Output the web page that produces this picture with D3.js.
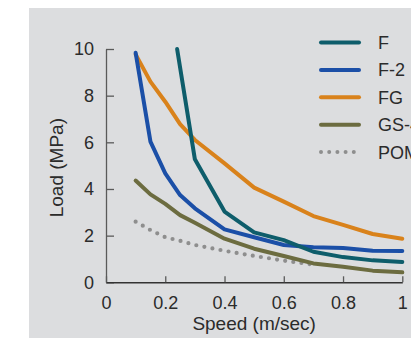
<!doctype html>
<html>
<head>
    <style>
        body { margin: 0; background: #fff; }
        svg { display: block; font-family: "Liberation Sans", Arial, sans-serif; }
        .tick text { fill: #2b2b2b; }
    </style>
    <script src="https://d3js.org/d3.v7.min.js"></script>
</head>
<body>
<svg width="411" height="338"></svg>
<script>

    // values
    var names = ["F", "F-2", "FG", "GS-4", "POM"];
    var colors = ["#0e5d6b", "#1b4fa7", "#d9821b", "#6c6c40", "#8e8e8e"];

    var speedF   = [0.24, 0.3, 0.4, 0.5, 0.6, 0.7, 0.8, 0.9, 1.0];
    var loadF    = [10, 5.27, 3.03, 2.14, 1.81, 1.31, 1.08, 0.94, 0.87];

    var speedF2  = [0.1, 0.15, 0.2, 0.25, 0.3, 0.4, 0.5, 0.6, 0.7, 0.8, 0.9, 1.0];
    var loadF2   = [9.84, 6.03, 4.67, 3.74, 3.17, 2.27, 1.93, 1.6, 1.5, 1.47, 1.35, 1.34];

    var speedFG  = [0.1, 0.15, 0.2, 0.25, 0.3, 0.4, 0.5, 0.6, 0.7, 0.8, 0.9, 1.0];
    var loadFG   = [9.77, 8.6, 7.74, 6.78, 6.1, 5.1, 4.06, 3.46, 2.84, 2.46, 2.07, 1.87];

    var speedGS  = [0.1, 0.15, 0.2, 0.25, 0.3, 0.4, 0.5, 0.6, 0.7, 0.8, 0.9, 1.0];
    var loadGS   = [4.36, 3.77, 3.36, 2.88, 2.55, 1.87, 1.44, 1.13, 0.81, 0.67, 0.5, 0.43];

    var speedPOM = [0.1, 0.15, 0.2, 0.25, 0.3, 0.4, 0.5, 0.6, 0.7];
    var loadPOM  = [2.6, 2.24, 1.93, 1.78, 1.6, 1.35, 1.13, 0.93, 0.76];

    var xTicks = [0, 0.2, 0.4, 0.6, 0.8, 1];
    var yTicks = [0, 2, 4, 6, 8, 10];

    var series = [
        {speed: speedPOM, load: loadPOM, i: 4},
        {speed: speedGS, load: loadGS, i: 3},
        {speed: speedFG, load: loadFG, i: 2},
        {speed: speedF2, load: loadF2, i: 1},
        {speed: speedF, load: loadF, i: 0}
    ];

    var svg = d3.select("svg");

    // grey panel
    svg.append("rect")
        .attr("x", 29).attr("y", 8)
        .attr("width", 382).attr("height", 330)
        .attr("fill", "#dcdddf");

    var x = d3.scaleLinear().domain([0, 1]).range([106, 402.3]),
        y = d3.scaleLinear().domain([0, 10]).range([282.3, 49]);

    // y axis, ticks pointing inward
    var gy = svg.append("g")
        .attr("transform", "translate(" + x(0) + ",0)")
        .call(d3.axisLeft(y).tickValues(yTicks).tickSizeInner(-8).tickSizeOuter(0).tickPadding(12));
    gy.select(".domain").attr("stroke", "#5a5a5a").attr("stroke-width", 1.3);
    gy.selectAll(".tick line").attr("stroke", "#5a5a5a").attr("stroke-width", 1.3);
    gy.selectAll(".tick text").attr("font-size", "18px");

    // x axis, ticks pointing up
    var gx = svg.append("g")
        .attr("transform", "translate(0," + y(0) + ")")
        .call(d3.axisBottom(x).tickValues(xTicks).tickFormat(d3.format("")).tickSizeInner(-6).tickSizeOuter(0).tickPadding(14));
    gx.select(".domain").attr("stroke", "#333").attr("stroke-width", 1.5);
    gx.selectAll(".tick line").attr("stroke", "#5a5a5a").attr("stroke-width", 1.3);
    gx.selectAll(".tick text").attr("font-size", "18px");

    svg.append("text")
        .attr("x", x(0.5)).attr("y", 330)
        .attr("text-anchor", "middle")
        .attr("font-size", "19px")
        .attr("fill", "#2b2b2b")
        .text("Speed (m/sec)");

    svg.append("text")
        .attr("transform", "translate(63," + (y(5) + 2) + ") rotate(-90)")
        .attr("text-anchor", "middle")
        .attr("font-size", "19px")
        .attr("fill", "#2b2b2b")
        .text("Load (MPa)");

    var line = d3.line()
        .x(function(d) { return x(d[0]); })
        .y(function(d) { return y(d[1]); });

    series.forEach(function(s) {
        var pts = s.speed.map(function(v, k) { return [v, s.load[k]]; });
        var p = svg.append("path")
            .datum(pts)
            .attr("d", line)
            .attr("fill", "none")
            .attr("stroke", colors[s.i])
            .attr("stroke-width", 4)
            .attr("stroke-linejoin", "round")
            .attr("stroke-linecap", "round");
        if (s.i === 4) {
            p.attr("stroke-width", 4.2).attr("stroke-dasharray", "0 8.2");
        }
    });

    // legend
    var leg = svg.selectAll(".leg")
        .data(names)
        .enter().append("g")
        .attr("class", "leg")
        .attr("transform", function(d, i) { return "translate(0," + (42.5 + i * 27.4) + ")"; });

    leg.append("line")
        .attr("x1", 321).attr("x2", 359)
        .attr("stroke", function(d, i) { return colors[i]; })
        .attr("stroke-width", 4)
        .attr("stroke-linecap", "round")
        .attr("stroke-dasharray", function(d, i) { return i === 4 ? "0 8.2" : null; });

    leg.append("text")
        .attr("x", 378).attr("dy", "0.36em")
        .attr("font-size", "18px")
        .attr("fill", "#2b2b2b")
        .text(function(d) { return d; });

</script>
</body>
</html>
